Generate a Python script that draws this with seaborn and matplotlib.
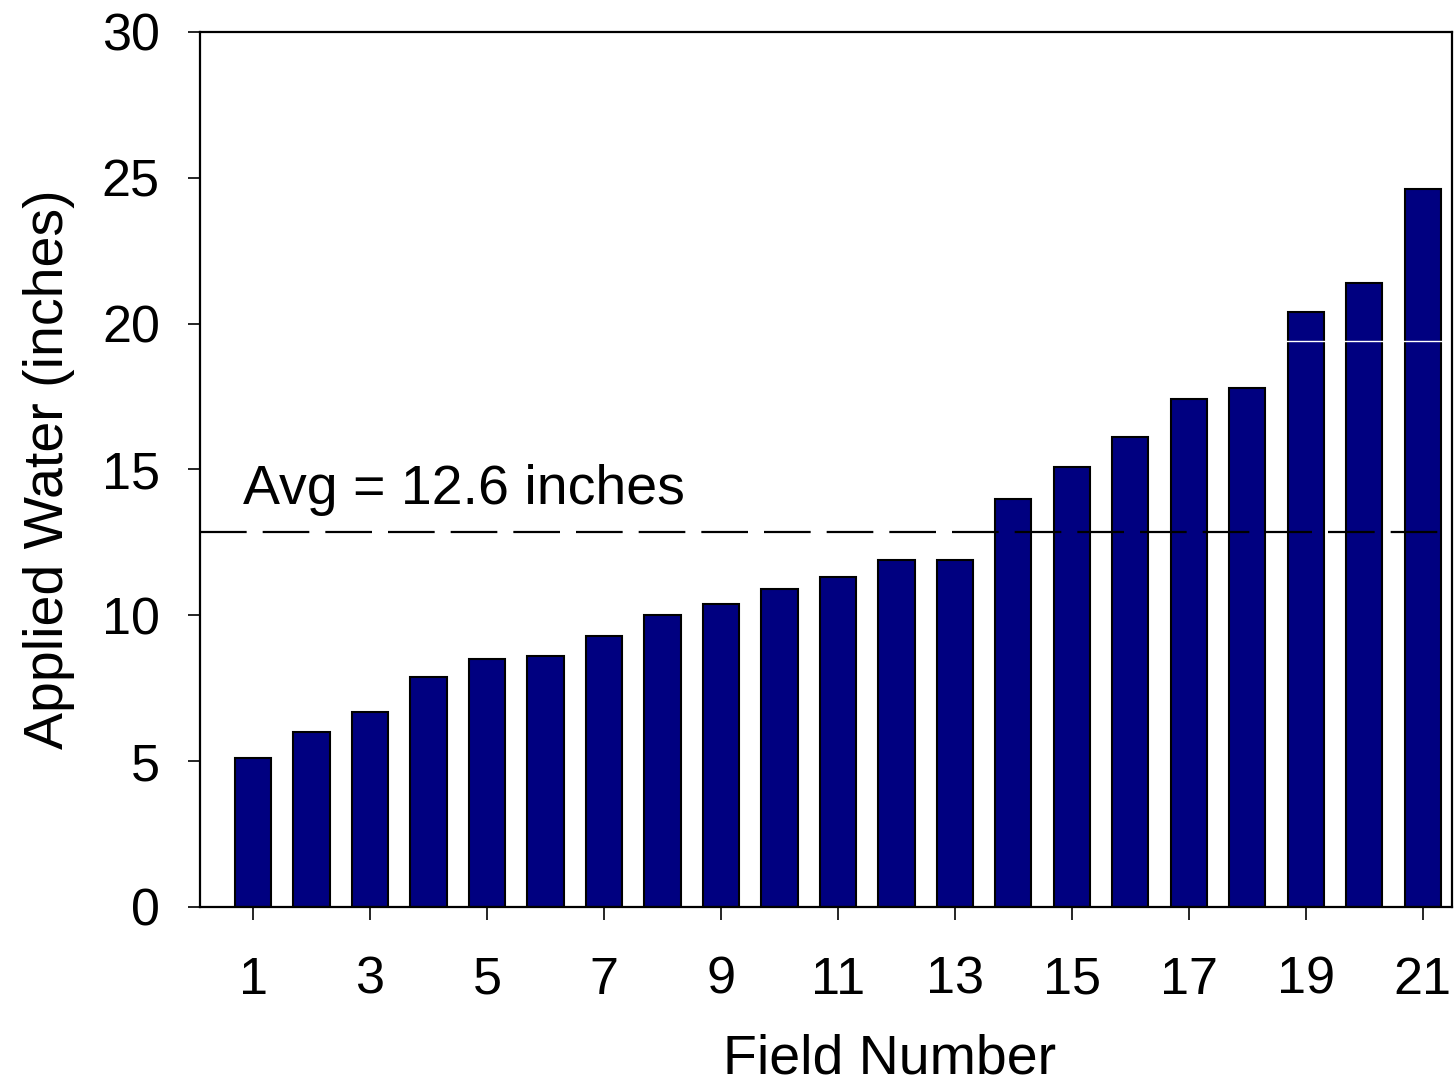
import numpy as np
import pandas as pd
import matplotlib
matplotlib.use("Agg")
import matplotlib.pyplot as plt
import seaborn as sns

fields = list(range(1, 22))
water = [5.1, 6.0, 6.7, 7.9, 8.5, 8.6, 9.3, 10.0, 10.4, 10.9, 11.3,
         11.9, 11.9, 14.0, 15.1, 16.1, 17.4, 17.8, 20.4, 21.4, 24.6]
avg_line = 12.85
avg_label = "Avg = 12.6 inches"
tick_fields = [1, 3, 5, 7, 9, 11, 13, 15, 17, 19, 21]

df = pd.DataFrame({"field": fields, "water": water})

sns.set_style("ticks")
plt.rcParams['font.family'] = ['Liberation Sans', 'DejaVu Sans']
plt.rcParams['text.color'] = 'black'
plt.rcParams['axes.labelcolor'] = 'black'

fig = plt.figure(figsize=(14.54, 10.87), dpi=100)
ax = fig.add_axes([0.1376, 0.1656, 0.8610, 0.8050])

sns.barplot(data=df, x="field", y="water", color="#000080", saturation=1,
            width=0.62, edgecolor="black", linewidth=1.5, ax=ax, zorder=2)

# odd white streak across the tallest bars in the original
ax.axhline(19.4, color="white", lw=1, zorder=2.2)
ax.axhline(avg_line, color="black", lw=1.6, dashes=(21, 7.2), zorder=4)
ax.text(-0.17, 13.8, avg_label, fontsize=40, va="baseline", ha="left", color="black")

ax.set_xlim(-0.906, 20.5)
ax.set_ylim(0, 30)
ax.set_yticks([0, 5, 10, 15, 20, 25, 30])
ax.set_xticks([f - 1 for f in tick_fields])
ax.set_xticklabels([str(f) for f in tick_fields])

for s in ax.spines.values():
    s.set_linewidth(1.6)
    s.set_color("black")
ax.tick_params(axis="both", direction="out", length=9, width=1.2, labelsize=37.5,
               colors="black")
ax.tick_params(axis="y", pad=20)
ax.tick_params(axis="x", pad=26)

ax.set_xlabel("Field Number", fontsize=40)
ax.set_ylabel("Applied Water (inches)", fontsize=40)
ax.xaxis.set_label_coords(0.551, -0.145)
ax.yaxis.set_label_coords(-0.1, 0.5)

fig.savefig("out.png", dpi=100)
